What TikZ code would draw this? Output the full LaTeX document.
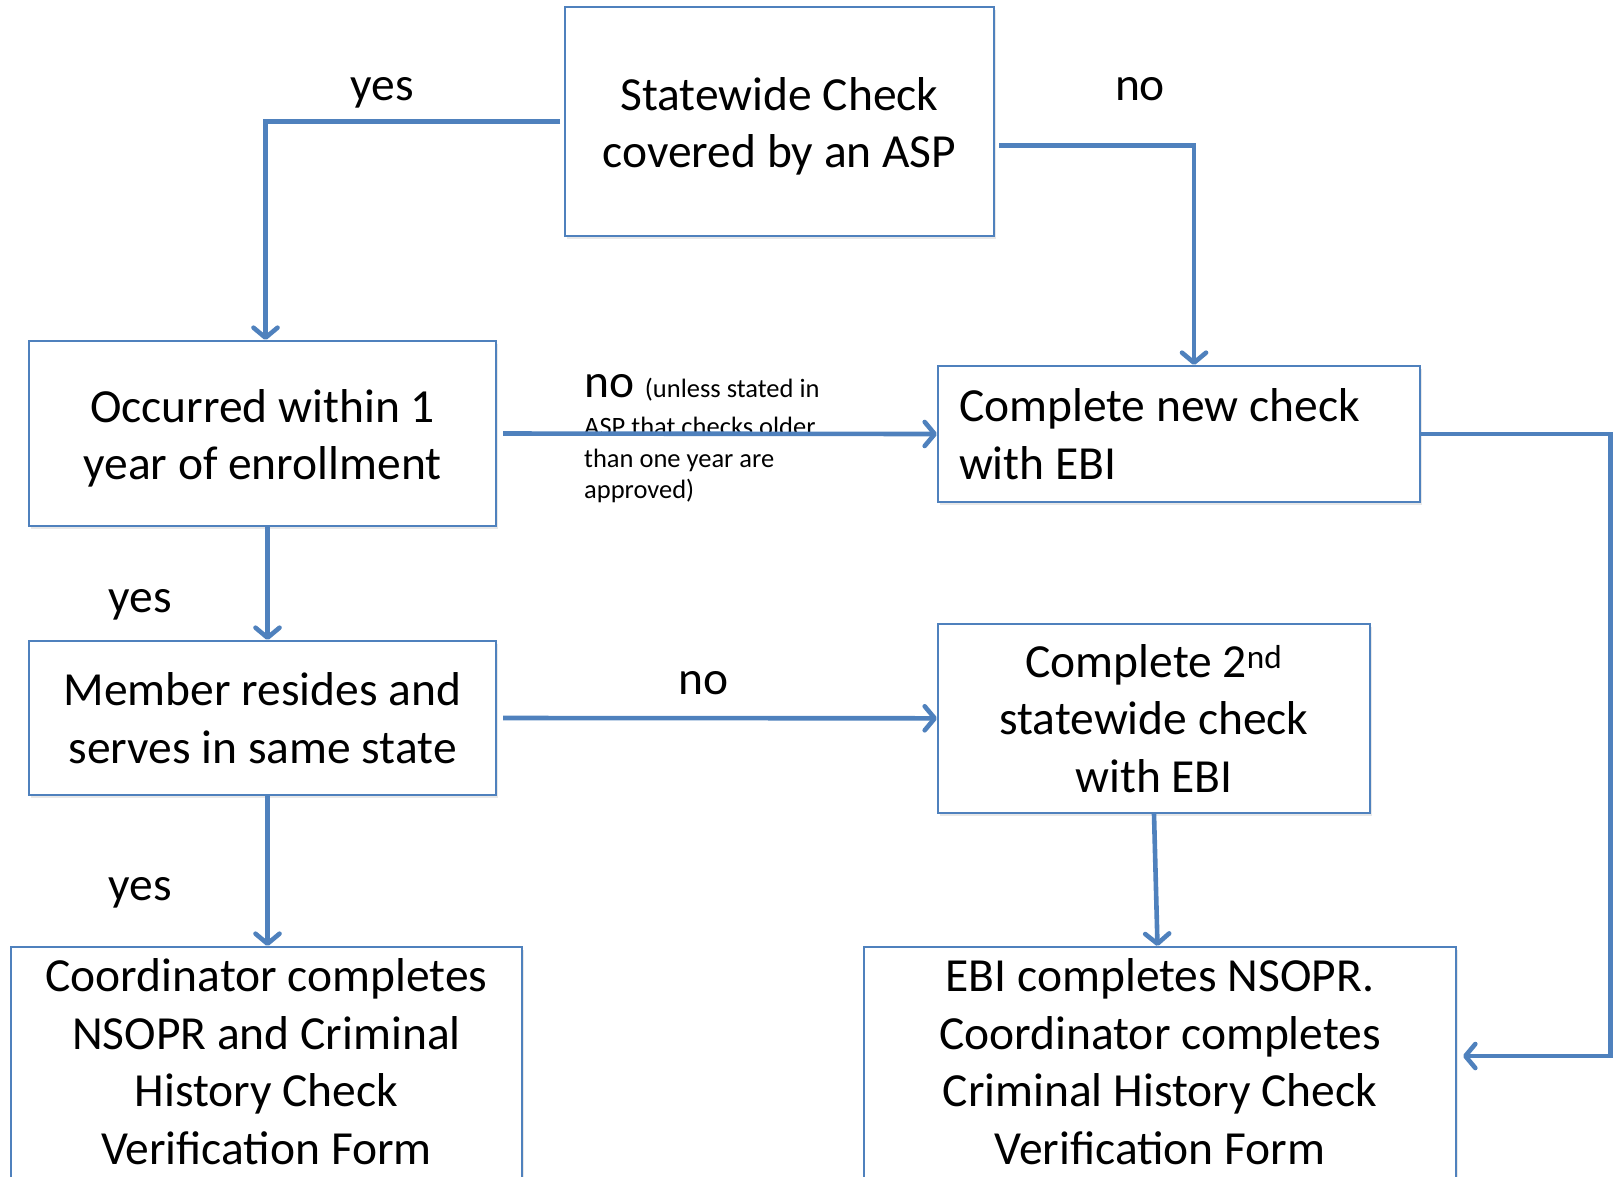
\documentclass[tikz,border=0pt]{standalone}
\usepackage{fontspec}
\setmainfont{Carlito}
\usetikzlibrary{arrows.meta,shadows}
\definecolor{lineblue}{HTML}{4F81BD}
\newcommand{\bigtxt}{\fontsize{47.5}{57.5}\selectfont}
\newcommand{\smalltxt}{\fontsize{26.5}{31.5}\selectfont}
\newcommand{\topfix}{\rule{0pt}{43pt}}
\begin{document}
\begin{tikzpicture}[x=1pt,y=-1pt,
  box/.style={draw=lineblue, line width=2pt, fill=white, inner sep=0pt,
    align=center, font=\bigtxt,
    drop shadow={opacity=0.18, shadow xshift=2pt, shadow yshift=-3pt}},
  txt/.style={inner sep=0pt, align=center, font=\bigtxt},
  lbl/.style={inner sep=0pt, font=\bigtxt},
  note/.style={inner sep=0pt, align=left, font=\smalltxt},
  conn/.style={draw=lineblue, line width=4.6pt,
    -{Straight Barb[length=10pt, width=24pt, round]}}]
\useasboundingbox (0,0) rectangle (1613,1176);
\clip (0,0) rectangle (1613,1176);
% boxes
\node[box, minimum width=429pt, minimum height=229pt] (A) at (779.5,121.5)
  {\topfix Statewide Check\\covered by an ASP};
\node[box, minimum width=467pt, minimum height=185pt] (B) at (262.5,433.5)
  {\topfix Occurred within 1\\year of enrollment};
\node[box, minimum width=482pt, minimum height=136pt, text width=440pt,
  inner xsep=21pt, align=flush left] (C) at (1179,434)
  {Complete new check\\with EBI};
\node[box, minimum width=467pt, minimum height=154pt] (D) at (262.5,718)
  {Member resides and\\serves in same state};
\node[box, minimum width=432pt, minimum height=189.5pt] (E) at (1154,718.3)
  {Complete 2\textsuperscript{nd}\\statewide check\\with EBI};
\node[box, minimum width=511pt, minimum height=300pt, anchor=north] (F) at (266.5,946) {};
\node[txt] (Ft) at (266.5,1061.5)
  {Coordinator completes\\NSOPR and Criminal\\History Check\\Verification Form};
\node[box, minimum width=592pt, minimum height=300pt, anchor=north] (G) at (1160,946) {};
\node[txt] (Gt) at (1160,1061.5)
  {EBI completes NSOPR.\\Coordinator completes\\Criminal History Check\\Verification Form};
% labels
\node[lbl] (y1) at (382,92.8) {yes};
\node[lbl] (n1) at (1140,89.5) {no};
\node[lbl] (y2) at (140,604.7) {yes};
\node[lbl] (n2) at (703.5,683) {no};
\node[lbl] (y3) at (140,892.7) {yes};
\node[note, anchor=north west] (nt) at (584,374)
  {{\bigtxt no }(unless stated in\\[7pt]ASP that checks older\\than one year are\\approved)};
% connectors
\coordinate (cg) at (1610.5,1056);
\draw[conn, shorten <=4pt] (A.west) -| ([xshift=3pt]B.north);
\draw[conn, shorten <=4pt] ([yshift=-24pt]A.east) -| ([xshift=15pt]C.north);
\draw[conn, shorten <=6pt] (B.east) -- (C.west);
\draw[conn] ([xshift=5pt]B.south) -- ([xshift=5pt]D.north);
\draw[conn, shorten <=6pt] (D.east) -- (E.west);
\draw[conn] ([xshift=5pt]D.south) -- ([xshift=1pt]F.north);
\draw[conn] (E.south) -- ([xshift=-2.5pt]G.north);
\draw[conn, shorten >=6pt] (C.east) -| (cg) -- (G.east |- cg);
\end{tikzpicture}
\end{document}
